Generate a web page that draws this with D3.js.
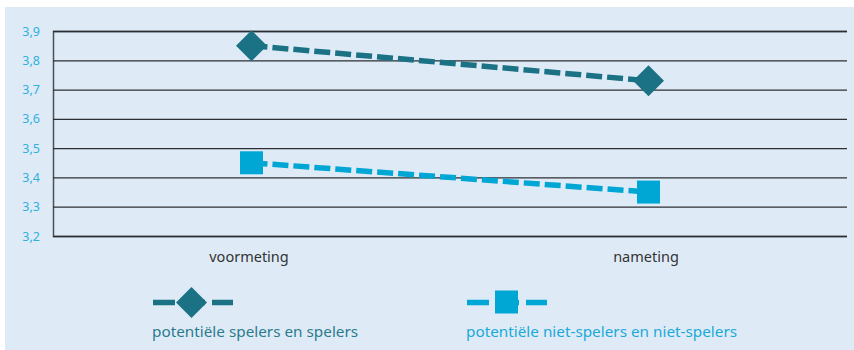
<!DOCTYPE html>
<html>
<head>
<meta charset="utf-8">
<script src="https://cdn.jsdelivr.net/npm/d3@7"></script>
<style>
  html, body { margin: 0; padding: 0; background: #ffffff; }
  svg { display: block; font-family: "Noto Sans", Lato, sans-serif; }
</style>
</head>
<body>
<svg id="chart" width="854" height="350"></svg>
<script>
// Measurement moments and mean scores per group
const categories = ["voormeting", "nameting"];
const spelers = [3.85, 3.73];
const nietSpelers = [3.45, 3.35];
const yTicks = [3.2, 3.3, 3.4, 3.5, 3.6, 3.7, 3.8, 3.9];
const seriesNames = ["potentiële spelers en spelers", "potentiële niet-spelers en niet-spelers"];

const colors = { dark: "#1b7285", light: "#00a6d4" };

const svg = d3.select("#chart");

// Light blue panel
svg.append("rect")
  .attr("x", 5).attr("y", 7)
  .attr("width", 849).attr("height", 343)
  .attr("fill", "#deebf7");

const plot = { left: 53, right: 847, top: 31, bottom: 236 };

const x = d3.scalePoint()
  .domain(categories)
  .range([plot.left, plot.right])
  .padding(0.5);

const y = d3.scaleLinear()
  .domain([3.2, 3.9])
  .range([plot.bottom, plot.top]);

const fmt = d => d.toFixed(1).replace(".", ",");

// Horizontal gridlines with the value labels
const yAxis = d3.axisLeft(y)
  .tickValues(yTicks)
  .tickSize(-(plot.right - plot.left))
  .tickPadding(12)
  .tickFormat(fmt);

const gy = svg.append("g")
  .attr("transform", `translate(${plot.left},0)`)
  .call(yAxis)
  .attr("font-family", null);
gy.select(".domain").attr("stroke", "#4a4f55").attr("stroke-width", 1.5);
gy.selectAll(".tick line").attr("stroke", "#2b2f33").attr("stroke-width", 1.3);
gy.selectAll(".tick text")
  .attr("fill", "#2fb0dd")
  .attr("font-size", 12.5)
  .attr("x", -13);

// Category labels under the plot
const xAxis = d3.axisBottom(x).tickSize(0).tickPadding(0);
const gx = svg.append("g")
  .attr("transform", `translate(0,${plot.bottom})`)
  .call(xAxis)
  .attr("font-family", null);
gx.select(".domain").remove();
gx.selectAll(".tick text")
  .attr("fill", "#333333")
  .attr("font-size", 14.5)
  .attr("dy", 0)
  .attr("x", -3)
  .attr("y", 26);

const line = d3.line()
  .x((d, i) => x(categories[i]))
  .y(d => y(d));

const dash = "16,5";

// Series lines
svg.append("path")
  .datum(spelers)
  .attr("d", line)
  .attr("fill", "none")
  .attr("stroke", colors.dark)
  .attr("stroke-width", 5.5)
  .attr("stroke-dasharray", dash);

svg.append("path")
  .datum(nietSpelers)
  .attr("d", line)
  .attr("fill", "none")
  .attr("stroke", colors.light)
  .attr("stroke-width", 5.5)
  .attr("stroke-dasharray", dash);

// Markers
const diamond = d3.symbol().type(d3.symbolSquare).size(480);
svg.selectAll(".mk-dark")
  .data(spelers)
  .enter().append("path")
  .attr("class", "mk-dark")
  .attr("d", diamond)
  .attr("transform", (d, i) => `translate(${x(categories[i])},${y(d)}) rotate(45)`)
  .attr("fill", colors.dark);

svg.selectAll(".mk-light")
  .data(nietSpelers)
  .enter().append("rect")
  .attr("class", "mk-light")
  .attr("x", (d, i) => x(categories[i]) - 11.5)
  .attr("y", d => y(d) - 11.5)
  .attr("width", 23).attr("height", 23)
  .attr("fill", colors.light);

// Legend
const legendItems = [
  { name: seriesNames[0], color: colors.dark, x0: 153, marker: "diamond", textColor: "#2b7b8d" },
  { name: seriesNames[1], color: colors.light, x0: 467, marker: "square", textColor: "#1aa9d8" }
];
const legendY = 302.5;

legendItems.forEach(item => {
  const g = svg.append("g");
  g.append("line")
    .attr("x1", item.x0).attr("x2", item.x0 + 80)
    .attr("y1", legendY).attr("y2", legendY)
    .attr("stroke", item.color)
    .attr("stroke-width", 5.5)
    .attr("stroke-dasharray", "22,7,23,7,22");
  if (item.marker === "diamond") {
    g.append("path")
      .attr("d", diamond)
      .attr("transform", `translate(${item.x0 + 38.5},${legendY}) rotate(45)`)
      .attr("fill", item.color);
  } else {
    g.append("rect")
      .attr("x", item.x0 + 28).attr("y", legendY - 12)
      .attr("width", 23).attr("height", 23)
      .attr("fill", item.color);
  }
  g.append("text")
    .attr("x", item.x0 - 1)
    .attr("y", 337)
    .attr("fill", item.textColor)
    .attr("font-size", 15.3)
    .text(item.name);
});
</script>
</body>
</html>
